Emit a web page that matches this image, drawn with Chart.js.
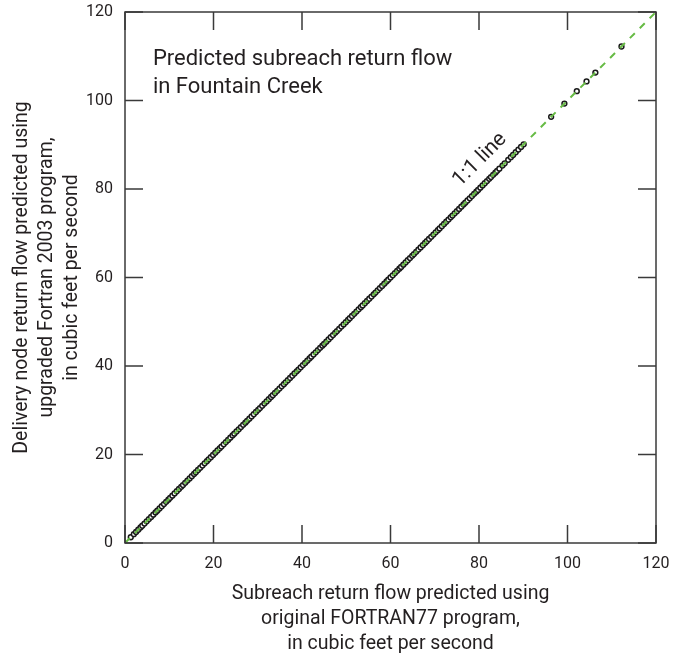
<!DOCTYPE html>
<html>
<head>
<meta charset="utf-8">
<script src="https://cdn.jsdelivr.net/npm/chart.js@4.4.0/dist/chart.umd.min.js"></script>
<style>
  html, body { margin: 0; padding: 0; background: #fff; }
  #wrap { width: 682px; height: 657px; }
</style>
</head>
<body>
<div id="wrap"><canvas id="returnFlowChart"></canvas></div>
<script>
// Fountain Creek - subreach return flow, FORTRAN77 vs Fortran 2003

const fortran77 = [1.3, 2.0, 2.5, 3.0, 3.5, 3.9, 4.4, 4.9, 5.4, 5.9, 6.4, 6.9, 7.3, 7.8, 8.3, 8.8, 9.3, 9.8, 10.2,
  10.7, 11.2, 11.7, 12.2, 12.7, 13.1, 13.6, 14.1, 14.6, 15.1, 15.6, 16.0, 16.5, 17.0, 17.5, 18.0, 18.5, 18.9, 19.4,
  19.9, 20.4, 20.9, 21.4, 21.8, 22.3, 22.8, 23.3, 23.8, 24.3, 24.7, 25.2, 25.7, 26.2, 26.7, 27.2, 27.6, 28.1, 28.6,
  29.1, 29.6, 30.1, 30.5, 31.0, 31.5, 32.0, 32.5, 33.0, 33.4, 33.9, 34.4, 34.9, 35.4, 35.9, 36.3, 36.8, 37.3, 37.8,
  38.3, 38.8, 39.2, 39.7, 40.2, 40.7, 41.2, 41.7, 42.1, 42.6, 43.1, 43.6, 44.1, 44.6, 45.0, 45.5, 46.0, 46.5, 47.0,
  47.5, 47.9, 48.4, 48.9, 49.4, 49.9, 50.4, 50.8, 51.3, 51.8, 52.3, 52.8, 53.3, 53.7, 54.2, 54.7, 55.2, 55.7, 56.2,
  56.6, 57.1, 57.6, 58.1, 58.6, 59.1, 59.5, 60.0, 60.5, 61.0, 61.5, 62.0, 62.4, 62.9, 63.4, 63.9, 64.4, 64.9, 65.3,
  65.8, 66.3, 66.8, 67.3, 67.8, 68.2, 68.7, 69.2, 69.7, 70.2, 70.7, 71.1, 71.6, 72.1, 72.6, 73.1, 73.6, 74.0, 74.5,
  75.0, 75.5, 76.0, 76.5, 76.9, 77.4, 77.9, 78.4, 78.9, 79.4, 79.8, 80.3, 80.8, 81.3, 81.8, 82.3, 82.7, 83.2, 83.7,
  84.1, 84.6, 85.3, 85.8, 86.6, 87.2, 87.7, 88.3, 88.9, 89.5, 90.1, 96.3, 99.3, 102.1, 104.3, 106.3, 112.2];
const fortran2003 = [1.3, 2.0, 2.5, 3.0, 3.5, 3.9, 4.4, 4.9, 5.4, 5.9, 6.4, 6.9, 7.3, 7.8, 8.3, 8.8, 9.3, 9.8, 10.2,
  10.7, 11.2, 11.7, 12.2, 12.7, 13.1, 13.6, 14.1, 14.6, 15.1, 15.6, 16.0, 16.5, 17.0, 17.5, 18.0, 18.5, 18.9, 19.4,
  19.9, 20.4, 20.9, 21.4, 21.8, 22.3, 22.8, 23.3, 23.8, 24.3, 24.7, 25.2, 25.7, 26.2, 26.7, 27.2, 27.6, 28.1, 28.6,
  29.1, 29.6, 30.1, 30.5, 31.0, 31.5, 32.0, 32.5, 33.0, 33.4, 33.9, 34.4, 34.9, 35.4, 35.9, 36.3, 36.8, 37.3, 37.8,
  38.3, 38.8, 39.2, 39.7, 40.2, 40.7, 41.2, 41.7, 42.1, 42.6, 43.1, 43.6, 44.1, 44.6, 45.0, 45.5, 46.0, 46.5, 47.0,
  47.5, 47.9, 48.4, 48.9, 49.4, 49.9, 50.4, 50.8, 51.3, 51.8, 52.3, 52.8, 53.3, 53.7, 54.2, 54.7, 55.2, 55.7, 56.2,
  56.6, 57.1, 57.6, 58.1, 58.6, 59.1, 59.5, 60.0, 60.5, 61.0, 61.5, 62.0, 62.4, 62.9, 63.4, 63.9, 64.4, 64.9, 65.3,
  65.8, 66.3, 66.8, 67.3, 67.8, 68.2, 68.7, 69.2, 69.7, 70.2, 70.7, 71.1, 71.6, 72.1, 72.6, 73.1, 73.6, 74.0, 74.5,
  75.0, 75.5, 76.0, 76.5, 76.9, 77.4, 77.9, 78.4, 78.9, 79.4, 79.8, 80.3, 80.8, 81.3, 81.8, 82.3, 82.7, 83.2, 83.7,
  84.1, 84.6, 85.3, 85.8, 86.6, 87.2, 87.7, 88.3, 88.9, 89.5, 90.1, 96.3, 99.3, 102.1, 104.3, 106.3, 112.2];
const oneToOne = [0, 120];
const tickValues = [0, 20, 40, 60, 80, 100, 120];

const FONT = "Roboto, 'Liberation Sans', sans-serif";
const INK = '#231f20';

// frame, inward ticks on all four sides, and text notes
const framePlugin = {
  id: 'frame',
  afterDatasetsDraw(chart) {
    const { ctx, chartArea: a, scales: { x, y } } = chart;
    const len = 18;
    ctx.save();
    ctx.strokeStyle = '#3a3a3a';
    ctx.lineWidth = 1.5;
    ctx.strokeRect(a.left, a.top, a.right - a.left, a.bottom - a.top);
    ctx.beginPath();
    x.ticks.forEach(t => {
      const px = x.getPixelForValue(t.value);
      ctx.moveTo(px, a.bottom); ctx.lineTo(px, a.bottom - len);
      ctx.moveTo(px, a.top); ctx.lineTo(px, a.top + len);
    });
    y.ticks.forEach(t => {
      const py = y.getPixelForValue(t.value);
      ctx.moveTo(a.left, py); ctx.lineTo(a.left + len, py);
      ctx.moveTo(a.right, py); ctx.lineTo(a.right - len, py);
    });
    ctx.stroke();

    ctx.fillStyle = INK;
    ctx.font = '22px ' + FONT;
    ctx.textAlign = 'left';
    ctx.textBaseline = 'alphabetic';
    ctx.fillText('Predicted subreach return flow', x.getPixelForValue(6.3), y.getPixelForValue(108));
    ctx.fillText('in Fountain Creek', x.getPixelForValue(6.3), y.getPixelForValue(101.7));

    ctx.translate(x.getPixelForValue(80.2), y.getPixelForValue(86.6));
    ctx.rotate(-Math.PI / 4);
    ctx.font = '21px ' + FONT;
    ctx.textAlign = 'center';
    ctx.textBaseline = 'middle';
    ctx.fillText('1:1 line', 0, 0);
    ctx.restore();
  }
};

const ctx = document.getElementById('returnFlowChart');

new Chart(ctx, {
  type: 'scatter',
  data: {
    datasets: [{
      label: '1:1 line',
      type: 'line',
      data: oneToOne.map(v => ({ x: v, y: v })),
      borderColor: '#66bb44',
      borderWidth: 2,
      borderDash: [7, 7],
      pointRadius: 0,
      fill: false,
      order: 0
    }, {
      label: 'Subreach return flow',
      data: fortran77.map((v, i) => ({ x: v, y: fortran2003[i] })),
      pointRadius: 2.4,
      pointBorderWidth: 1.5,
      pointBorderColor: '#1a1a1a',
      pointBackgroundColor: '#ffffff',
      order: 1
    }]
  },
  options: {
    responsive: true,
    maintainAspectRatio: false,
    animation: false,
    layout: { padding: { top: 12, right: 26, left: 0, bottom: 0 } },
    plugins: {
      legend: { display: false },
      tooltip: { enabled: false }
    },
    scales: {
      x: {
        type: 'linear',
        min: 0,
        max: 120,
        afterFit: s => { s.height = 114; s.paddingLeft = 0; s.paddingRight = 0; },
        afterBuildTicks: s => { s.ticks = tickValues.map(v => ({ value: v })); },
        grid: { display: false, drawTicks: false },
        border: { display: false },
        ticks: { color: INK, font: { family: FONT, size: 16 }, padding: 11, maxRotation: 0 },
        title: {
          display: true,
          text: ['Subreach return flow predicted using', 'original FORTRAN77 program,', 'in cubic feet per second'],
          color: INK,
          font: { family: FONT, size: 19.5, lineHeight: 1.26 },
          padding: { top: 0, bottom: 1 }
        }
      },
      y: {
        type: 'linear',
        min: 0,
        max: 120,
        afterFit: s => { s.width = 125; s.paddingTop = 0; s.paddingBottom = 0; },
        afterBuildTicks: s => { s.ticks = tickValues.map(v => ({ value: v })); },
        grid: { display: false, drawTicks: false },
        border: { display: false },
        ticks: { color: INK, font: { family: FONT, size: 16 }, padding: 12 },
        title: {
          display: true,
          text: ['Delivery node return flow predicted using', 'upgraded Fortran 2003 program,', 'in cubic feet per second'],
          color: INK,
          font: { family: FONT, size: 19.5, lineHeight: 1.28 },
          padding: { top: 10, bottom: 0 }
        }
      }
    }
  },
  plugins: [framePlugin]
});
</script>
</body>
</html>
